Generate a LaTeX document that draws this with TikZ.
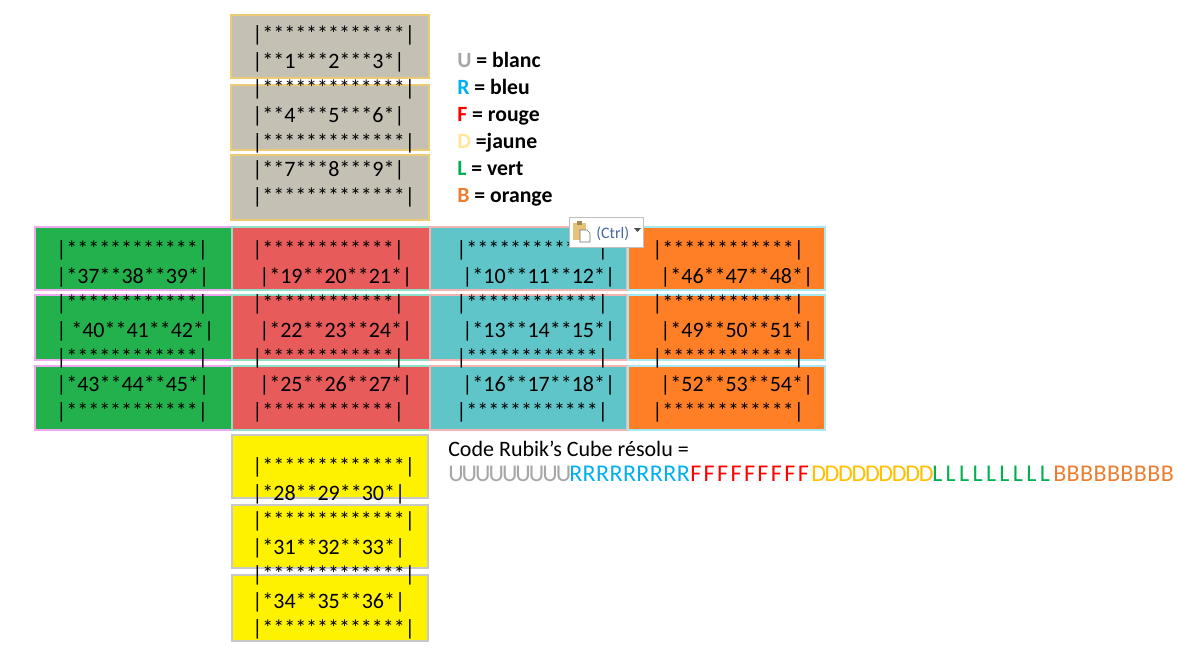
\documentclass[tikz,border=0pt]{standalone}
\usepackage{fontspec}
\setmainfont{Carlito}
\usetikzlibrary{calc}
\definecolor{faceU}{RGB}{196,192,180}
\definecolor{faceL}{RGB}{34,177,76}
\definecolor{faceF}{RGB}{232,91,91}
\definecolor{faceR}{RGB}{95,197,200}
\definecolor{faceB}{RGB}{255,127,39}
\definecolor{faceD}{RGB}{255,242,0}
\definecolor{edgeU}{RGB}{235,203,117}
\definecolor{edgeL}{RGB}{240,168,240}
\definecolor{edgeF}{RGB}{144,224,200}
\definecolor{edgeR}{RGB}{244,180,180}
\definecolor{edgeB}{RGB}{168,232,240}
\definecolor{edgeD}{RGB}{200,200,200}
\definecolor{legU}{RGB}{166,166,166}
\definecolor{legR}{RGB}{0,176,240}
\definecolor{legF}{RGB}{255,0,0}
\definecolor{legD}{RGB}{255,230,153}
\definecolor{legL}{RGB}{0,176,80}
\definecolor{legB}{RGB}{237,125,49}
\definecolor{codeD}{RGB}{255,192,0}
\definecolor{clipbrd}{RGB}{232,194,122}
\definecolor{ctrltext}{RGB}{70,105,160}
\def\starsA{|*************|}
\def\starsB{|************|}
\tikzset{
	sticker/.style={line width=1.8pt},
	cell/.style={anchor=base west, inner sep=0pt, font=\fontsize{16.5}{19}\selectfont},
	legend/.style={anchor=base west, inner sep=0pt, font=\bfseries\fontsize{16.3}{19}\selectfont},
	codeletter/.style={anchor=base west, inner sep=0pt, font=\fontsize{18}{21}\selectfont}
}

\begin{document}
\begin{tikzpicture}[x=0.75pt,y=-0.75pt]
			%%%%% START %%%%%
			\useasboundingbox (0,0) rectangle (1178,662);
			
			% face U
			\foreach \ya/\yb in {15/78, 85/150, 155/220}
				\draw[sticker, fill=faceU, draw=edgeU] (231,\ya) rectangle (429,\yb);
			
			% faces L F R B
			\foreach \xa/\xb/\fc/\ec in {35/232/faceL/edgeL, 232/430/faceF/edgeF, 430/627/faceR/edgeR, 628/825/faceB/edgeB}
				\foreach \ya/\yb in {227/290, 295/360, 366/430}
					\draw[sticker, fill=\fc, draw=\ec] (\xa,\ya) rectangle (\xb,\yb);
			
			% face D
			\foreach \ya/\yb in {435/498, 505/568, 575/641}
				\draw[sticker, fill=faceD, draw=edgeD] (232,\ya) rectangle (428,\yb);
			
			\foreach \txt [count=\k from 0] in {\starsA, {|**1***2***3*|}, \starsA, {|**4***5***6*|}, \starsA, {|**7***8***9*|}, \starsA}
				\node[cell] (U-\k) at (252, 41+27.1*\k) {\txt};
			
			\foreach \txt [count=\k from 0] in {\starsB, {|*37**38**39*|}, \starsB, {|\ *40**41**42*|}, \starsB, {|*43**44**45*|}, \starsB}
				\node[cell] (L-\k) at (56, 256+27*\k) {\txt};
			
			\foreach \f/\xs/\xn/\ra/\rb/\rc in {F/252/259/{|*19**20**21*|}/{|*22**23**24*|}/{|*25**26**27*|},
					R/456/462/{|*10**11**12*|}/{|*13**14**15*|}/{|*16**17**18*|},
					B/652/660/{|*46**47**48*|}/{|*49**50**51*|}/{|*52**53**54*|}}{
				\foreach \k in {0,2,4,6}
					\node[cell] (\f-\k) at (\xs, 256+27*\k) {\starsB};
				\node[cell] (\f-1) at (\xn, 283) {\ra};
				\node[cell] (\f-3) at (\xn, 337) {\rb};
				\node[cell] (\f-5) at (\xn, 391) {\rc};
			}
			
			\foreach \txt [count=\k from 0] in {\starsA, {|*28**29**30*|}, \starsA, {|*31**32**33*|}, \starsA, {|*34**35**36*|}, \starsA}
				\node[cell] (D-\k) at (252, 473+27*\k) {\txt};
			
			% legende
			\foreach \c/\col/\txt [count=\k from 0] in {U/legU/= blanc, R/legR/= bleu, F/legF/= rouge, D/legD/=jaune, L/legL/= vert, B/legB/= orange}
				\node[legend] (leg-\c) at (457, 67+27*\k) {\textcolor{\col}{\c} \txt};
			
			% code
			\node[cell] (code-title) at (448, 456) {Code Rubik’s Cube résolu =};
			\foreach \c/\col [count=\i from 0] in {U/legU, R/legR, F/legF, D/codeD, L/legL, B/legB}
				\foreach \k in {0,...,8}
					\node[codeletter, text=\col] (code-\c-\k) at (448+121*\i+13.44*\k, 481) {\c};
			
			% (Ctrl)
			\draw[fill=white, draw=black!25] (569,217) rectangle (643,247);
			\fill[clipbrd] (573,223) rectangle (586,240);
			\fill[clipbrd!70!black] (577,221) rectangle (582,225);
			\draw[fill=white, draw=black!55] (580,230) -- (587,230) -- (590,233) -- (590,242) -- (580,242) -- cycle;
			\node[anchor=base west, inner sep=0pt, text=ctrltext, font=\fontsize{12}{14}\selectfont] (ctrl) at (596,238) {(Ctrl)};
			\fill[black!70] (634,228) -- (641,228) -- (637.5,232) -- cycle;
			
			%%%%% END %%%%%
\end{tikzpicture}
\end{document}
